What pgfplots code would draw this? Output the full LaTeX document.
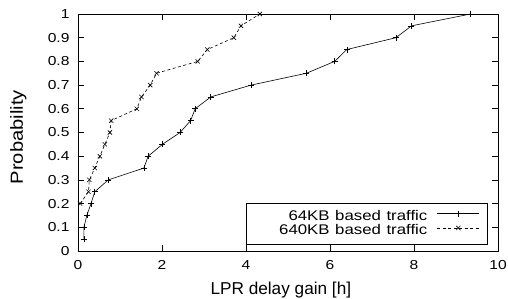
\documentclass[border=0pt]{standalone}
\usepackage{fontspec}
\setmainfont{Liberation Sans}
\usepackage{graphicx}
\usepackage{pgfplots}
\pgfplotsset{compat=1.18}
\newcommand\sx[1]{\scalebox{1.2}[1]{#1}}
\begin{document}
\begin{tikzpicture}
\path[use as bounding box] (-78pt,-48pt) rectangle (430pt,251pt);
\begin{axis}[
  at={(0pt,0pt)}, anchor=south west,
  scale only axis, width=420pt, height=237pt,
  xmin=0, xmax=10, ymin=0, ymax=1,
  xtick={0,2,...,10},
  xticklabels={\sx{0},\sx{2},\sx{4},\sx{6},\sx{8},\sx{10}},
  ytick={0,0.1,...,1.0},
  yticklabels={\sx{0},\sx{0.1},\sx{0.2},\sx{0.3},\sx{0.4},\sx{0.5},\sx{0.6},\sx{0.7},\sx{0.8},\sx{0.9},\sx{1}},
  tick style={black, line width=0.7pt},
  major tick length=6pt,
  axis line style={line width=0.9pt},
  tick label style={font=\fontsize{13}{15}\selectfont},
  yticklabel style={xshift=-5pt},
  xticklabel style={yshift=-6pt},
  xlabel={LPR delay gain [h]},
  ylabel={\scalebox{1.15}[1]{Probability}},
  xlabel style={font=\fontsize{17.2}{19}\selectfont, at={(axis description cs:0.483,-44/237)}, anchor=base},
  ylabel style={font=\fontsize{17.5}{20}\selectfont, at={(axis description cs:-55/420,0.48)}, anchor=base},
  legend cell align=right,
  legend plot pos=right,
  legend style={at={(410/420,6/237)}, anchor=south east, draw=black, line width=0.7pt,
    font=\fontsize{14}{15}\selectfont, inner sep=6pt, row sep=0pt, column sep=0pt,
    nodes={text width=174pt, align=right, inner sep=0.7pt, text height=10pt, text depth=3pt}},
  legend image code/.code={\path (0pt,0pt) (53pt,0pt);\draw[#1, mark repeat=2, mark phase=2] plot coordinates {(9pt,3.5pt) (30pt,3.5pt) (51pt,3.5pt)};},
]
\addplot[black, line width=0.6pt, mark=+, mark size=3pt, mark options={solid}] coordinates {
(0.14,0.05) (0.14,0.1) (0.21,0.15) (0.31,0.2) (0.40,0.25) (0.72,0.3) (1.57,0.35) (1.67,0.4)
(2.01,0.45) (2.43,0.5) (2.68,0.55) (2.79,0.6) (3.16,0.65) (4.12,0.7) (5.44,0.75) (6.11,0.8)
(6.40,0.85) (7.57,0.9) (7.94,0.95) (9.35,1.0)
};
\addlegendentry{\sx{64KB based traffic}}
\addplot[black, line width=0.6pt, dash pattern=on 3pt off 2.5pt, mark=x, mark size=3pt, mark options={solid}] coordinates {
(0.05,0.2) (0.25,0.25) (0.27,0.3) (0.40,0.35) (0.52,0.4) (0.64,0.45) (0.76,0.5) (0.79,0.55)
(1.40,0.6) (1.51,0.65) (1.72,0.7) (1.87,0.75) (2.85,0.8) (3.08,0.85) (3.71,0.9) (3.88,0.95)
(4.33,1.0)
};
\addlegendentry{\sx{640KB based traffic}}
\end{axis}
\end{tikzpicture}
\end{document}
